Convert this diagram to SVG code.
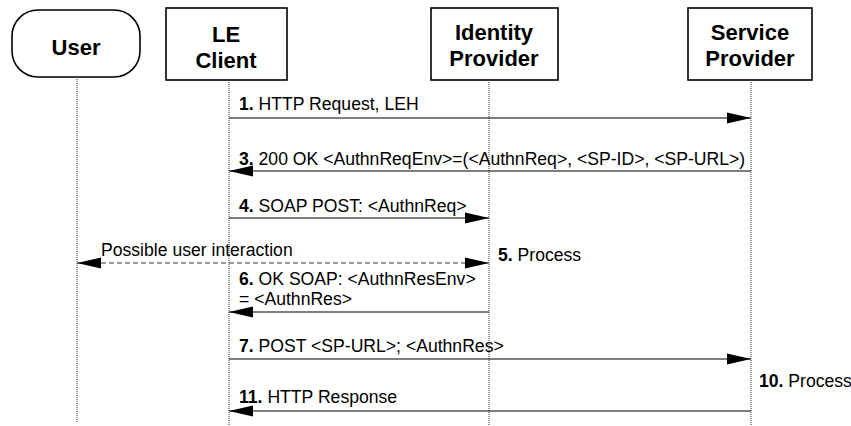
<svg xmlns="http://www.w3.org/2000/svg" width="851" height="426" viewBox="0 0 851 426">
  <style>
    .box { fill: #ffffff; stroke: #000000; stroke-width: 1.6; }
    .head { font-family: "Liberation Sans", Arial, sans-serif; font-size: 22px; font-weight: bold; text-anchor: middle; fill: #000; }
    .life { stroke: #333; stroke-width: 1; stroke-dasharray: 1 1; fill: none; }
    .msg { stroke: #000; stroke-width: 1.2; fill: none; }
    .dash { stroke: #333; stroke-width: 1.2; stroke-dasharray: 5 3; fill: none; }
    .lbl { font-family: "Liberation Sans", Arial, sans-serif; font-size: 17.6px; fill: #000; }
    .num { font-weight: bold; }
  </style>
  <defs>
    <marker id="ah" markerWidth="25" markerHeight="12" refX="24" refY="6" orient="auto-start-reverse" markerUnits="userSpaceOnUse">
      <path d="M0,0.5 L24,6 L0,11.5 z" fill="#000"/>
    </marker>
  </defs>

  <!-- participants -->
  <g id="user">
    <rect class="box" x="12" y="10" width="128" height="67" rx="26" ry="26"/>
    <text class="head" x="76" y="55">User</text>
    <line class="life" x1="77" y1="77" x2="77" y2="422"/>
  </g>
  <g id="le-client">
    <rect class="box" x="166" y="8" width="121" height="72"/>
    <text class="head" x="226" y="42">LE</text>
    <text class="head" x="226" y="68">Client</text>
    <line class="life" x1="229" y1="80" x2="229" y2="426"/>
  </g>
  <g id="identity-provider">
    <rect class="box" x="431" y="8" width="127" height="72"/>
    <text class="head" x="494" y="40">Identity</text>
    <text class="head" x="494" y="66">Provider</text>
    <line class="life" x1="489" y1="80" x2="489" y2="426"/>
  </g>
  <g id="service-provider">
    <rect class="box" x="688" y="8" width="124" height="72"/>
    <text class="head" x="750" y="40">Service</text>
    <text class="head" x="750" y="66">Provider</text>
    <line class="life" x1="751" y1="80" x2="751" y2="426"/>
  </g>

  <!-- messages -->
  <g id="connectors">
    <line class="msg" x1="229" y1="118" x2="751" y2="118" marker-end="url(#ah)"/>
    <line class="msg" x1="751" y1="171" x2="229" y2="171" marker-end="url(#ah)"/>
    <line class="msg" x1="229" y1="218" x2="489" y2="218" marker-end="url(#ah)"/>
    <line class="dash" x1="77" y1="263" x2="489" y2="263" marker-start="url(#ah)" marker-end="url(#ah)"/>
    <line class="msg" x1="489" y1="312" x2="229" y2="312" marker-end="url(#ah)"/>
    <line class="msg" x1="229" y1="359" x2="751" y2="359" marker-end="url(#ah)"/>
    <line class="msg" x1="751" y1="411" x2="229" y2="411" marker-end="url(#ah)"/>
  </g>

  <!-- labels -->
  <g id="labels">
    <text class="lbl" x="239" y="110"><tspan class="num">1.</tspan> HTTP Request, LEH</text>
    <text class="lbl" x="239" y="165"><tspan class="num">3.</tspan> 200 OK &lt;AuthnReqEnv&gt;=(&lt;AuthnReq&gt;, &lt;SP-ID&gt;, &lt;SP-URL&gt;)</text>
    <text class="lbl" x="239" y="212"><tspan class="num">4.</tspan> SOAP POST: &lt;AuthnReq&gt;</text>
    <text class="lbl" x="101" y="256">Possible user interaction</text>
    <text class="lbl" x="498" y="261"><tspan class="num">5.</tspan> Process</text>
    <text class="lbl" x="239" y="285"><tspan class="num">6.</tspan> OK SOAP: &lt;AuthnResEnv&gt;</text>
    <text class="lbl" x="239" y="305">= &lt;AuthnRes&gt;</text>
    <text class="lbl" x="239" y="352"><tspan class="num">7.</tspan> POST &lt;SP-URL&gt;; &lt;AuthnRes&gt;</text>
    <text class="lbl" x="759" y="387"><tspan class="num">10.</tspan> Process</text>
    <text class="lbl" x="239" y="403"><tspan class="num">11.</tspan> HTTP Response</text>
  </g>
</svg>
